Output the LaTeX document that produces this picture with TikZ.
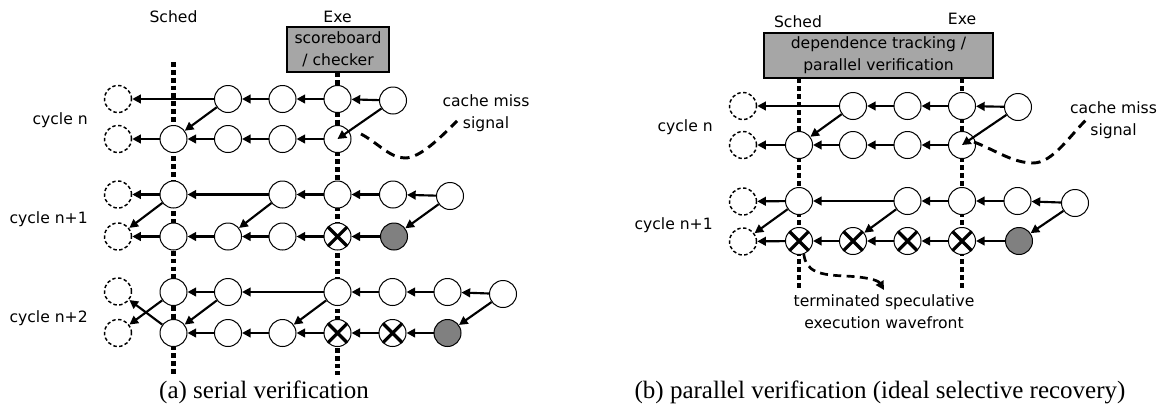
\documentclass[tikz,border=0pt]{standalone}
\usepackage{fontspec}
\newfontfamily\lblfont{DejaVu Sans}
\newfontfamily\capfont{Liberation Serif}
\usetikzlibrary{arrows.meta}
\begin{document}
\begin{tikzpicture}[x=0.75pt,y=-0.75pt,
  nd/.style={circle, draw, line width=0.75pt, fill=white, minimum size=20.25pt, inner sep=0pt},
  ghost/.style={nd, dash pattern=on 2.6pt off 1.8pt, line width=1.1pt},
  grn/.style={nd, fill=gray},
  xn/.style={nd, path picture={\draw[line width=2.4pt]
     (path picture bounding box.north west) -- (path picture bounding box.south east)
     (path picture bounding box.south west) -- (path picture bounding box.north east);}},
  arr/.style={line width=1.6pt, -{Triangle[length=6.5pt,width=6.5pt]}},
  lane/.style={line width=3.2pt, dash pattern=on 3.6pt off 2.3pt},
  lbl/.style={font=\lblfont\fontsize{11.7pt}{16.5pt}\selectfont, inner sep=0pt, align=center},
  box/.style={lbl, draw, fill=gray!70, line width=0.8pt, minimum height=33.75pt},
  captxt/.style={font=\capfont\fontsize{18.75pt}{22pt}\selectfont, inner sep=0pt},
  sig/.style={line width=2.2pt, dash pattern=on 7pt off 4.5pt},
  wave/.style={line width=2pt, dash pattern=on 6pt off 4pt, -{Triangle[length=6.5pt,width=6.5pt]}}
]
\useasboundingbox (0,0) rectangle (1162,404);

% ================= panel (a) =================
\node[lbl] (aSched) at (173.5,17) {Sched};
\node[lbl] (aExe) at (337.5,17) {Exe};
\node[box, minimum width=76.5pt] (aBox) at (338,49.5) {scoreboard\\/ checker};
\coordinate (aSt) at (173.5,62);
\coordinate (aSb) at (173.5,375);
\coordinate (aEb) at (337.5,375);
\draw[lane] (aSt) -- (aSb);
\draw[lane] (aBox.south -| aEb) -- (aEb);

\node[lbl, anchor=east] (acn) at (88,120) {cycle n};
\node[lbl, anchor=east] (acn1) at (88,219) {cycle n+1};
\node[lbl, anchor=east] (acn2) at (88,318) {cycle n+2};

% row 1
\node[ghost] (a10) at (118,99) {};
\node[nd] (a12) at (228,99) {};
\node[nd] (a13) at (282.5,99) {};
\node[nd] (a14) at (337.5,99) {};
\node[nd] (a15) at (393,100.5) {};
% row 2
\node[ghost] (a20) at (118,139) {};
\node[nd] (a21) at (173.5,139) {};
\node[nd] (a22) at (228,139) {};
\node[nd] (a23) at (282.5,139) {};
\node[nd] (a24) at (337.5,139) {};
% row 3
\node[ghost] (a30) at (118,194.5) {};
\node[nd] (a31) at (173.5,194.5) {};
\node[nd] (a33) at (282.5,194.5) {};
\node[nd] (a34) at (337.5,194.5) {};
\node[nd] (a35) at (393,194.5) {};
\node[nd] (a36) at (450,196) {};
% row 4
\node[ghost] (a40) at (118,236.5) {};
\node[nd] (a41) at (173.5,236.5) {};
\node[nd] (a42) at (228,236.5) {};
\node[nd] (a43) at (282.5,236.5) {};
\node[xn] (a44) at (337.5,236.5) {};
\node[grn] (a45) at (394,236.5) {};
% row 5
\node[ghost] (a50) at (118,291.5) {};
\node[nd] (a51) at (173.5,292) {};
\node[nd] (a52) at (228,292) {};
\node[nd] (a54) at (337.5,292) {};
\node[nd] (a55) at (392.5,292) {};
\node[nd] (a56) at (447.5,292) {};
\node[nd] (a57) at (503,294) {};
% row 6
\node[ghost] (a60) at (118,333) {};
\node[nd] (a61) at (173.5,333) {};
\node[nd] (a62) at (228,333) {};
\node[nd] (a63) at (282.5,333) {};
\node[xn] (a64) at (337.5,333) {};
\node[xn] (a65) at (392.5,333) {};
\node[grn] (a66) at (447.5,333) {};

\draw[arr] (a12) -- (a10);
\draw[arr] (a13) -- (a12);
\draw[arr] (a14) -- (a13);
\draw[arr] (a15) -- (a14);
\draw[arr] (a12) -- (a21);
\draw[arr] (a15) -- (a24.center);
\draw[arr] (a21) -- (a20);
\draw[arr] (a22) -- (a21);
\draw[arr] (a23) -- (a22);
\draw[arr] (a24) -- (a23);
\draw[arr] (a31) -- (a30);
\draw[arr] (a33) -- (a31);
\draw[arr] (a34) -- (a33);
\draw[arr] (a35) -- (a34);
\draw[arr] (a36) -- (a35);
\draw[arr] (a31) -- (a40);
\draw[arr] (a33) -- (a42);
\draw[arr] (a36) -- (a45);
\draw[arr] (a41) -- (a40);
\draw[arr] (a42) -- (a41);
\draw[arr] (a43) -- (a42);
\draw[arr] (a44) -- (a43);
\draw[arr] (a45) -- (a44);
\draw[arr] (a52) -- (a51);
\draw[arr] (a54) -- (a52);
\draw[arr] (a55) -- (a54);
\draw[arr] (a56) -- (a55);
\draw[arr] (a57) -- (a56);
\draw[arr] (a51) -- (a60);
\draw[arr] (a61) -- (a50);
\draw[arr] (a52) -- (a61);
\draw[arr] (a54) -- (a63);
\draw[arr] (a57) -- (a66);
\draw[arr] (a62) -- (a61);
\draw[arr] (a63) -- (a62);
\draw[arr] (a64) -- (a63);
\draw[arr] (a65) -- (a64);
\draw[arr] (a66) -- (a65);

\node[lbl] (acm) at (486,113) {cache miss\\signal};
\coordinate (asg0) at (361,134);
\coordinate (asg1) at (405,158);
\coordinate (asg2) at (457,121);
\draw[sig] (asg0) .. controls (378,143) and (390,158) .. (asg1)
                  .. controls (420,158) and (440,138) .. (asg2);

\node[captxt] (acap) at (264,392.5) {(a) serial verification};

% ================= panel (b) =================
\node[lbl] (bSched) at (798,21.5) {Sched};
\node[lbl] (bExe) at (962,19) {Exe};
\node[box, minimum width=171.75pt] (bBox) at (878.5,55.5) {dependence tracking /\\parallel verification};
\coordinate (bSb) at (799,289);
\coordinate (bEb) at (962,289);
\draw[lane] (bBox.south -| bSb) -- (bSb);
\draw[lane] (bBox.south -| bEb) -- (bEb);

\node[lbl, anchor=east] (bcn) at (713,127) {cycle n};
\node[lbl, anchor=east] (bcn1) at (713,225) {cycle n+1};

% row 1
\node[ghost] (b10) at (743,106) {};
\node[nd] (b12) at (853,106) {};
\node[nd] (b13) at (907.5,106) {};
\node[nd] (b14) at (962,106) {};
\node[nd] (b15) at (1018,107) {};
% row 2
\node[ghost] (b20) at (743,145) {};
\node[nd] (b21) at (799,145) {};
\node[nd] (b22) at (853,145) {};
\node[nd] (b23) at (907.5,145) {};
\node[nd] (b24) at (962,145) {};
% row 3
\node[ghost] (b30) at (743,201.5) {};
\node[nd] (b31) at (799,201) {};
\node[nd] (b33) at (907.5,201) {};
\node[nd] (b34) at (962,201) {};
\node[nd] (b35) at (1017.5,201) {};
\node[nd] (b36) at (1075,203) {};
% row 4
\node[ghost] (b40) at (743,241.5) {};
\node[xn] (b41) at (799,241) {};
\node[xn] (b42) at (853,241) {};
\node[xn] (b43) at (907.5,241) {};
\node[xn] (b44) at (962,241) {};
\node[grn] (b45) at (1019,241) {};

\draw[arr] (b12) -- (b10);
\draw[arr] (b13) -- (b12);
\draw[arr] (b14) -- (b13);
\draw[arr] (b15) -- (b14);
\draw[arr] (b12) -- (b21);
\draw[arr] (b15) -- (b24.center);
\draw[arr] (b21) -- (b20);
\draw[arr] (b22) -- (b21);
\draw[arr] (b23) -- (b22);
\draw[arr] (b24) -- (b23);
\draw[arr] (b31) -- (b30);
\draw[arr] (b33) -- (b31);
\draw[arr] (b34) -- (b33);
\draw[arr] (b35) -- (b34);
\draw[arr] (b36) -- (b35);
\draw[arr] (b31) -- (b40);
\draw[arr] (b33) -- (b42);
\draw[arr] (b36) -- (b45);
\draw[arr] (b41) -- (b40);
\draw[arr] (b42) -- (b41);
\draw[arr] (b43) -- (b42);
\draw[arr] (b44) -- (b43);
\draw[arr] (b45) -- (b44);

\node[lbl] (bcm) at (1113.5,120) {cache miss\\signal};
\coordinate (bsg0) at (974,142);
\coordinate (bsg1) at (1033,163);
\coordinate (bsg2) at (1088,118);
\draw[sig] (bsg0) .. controls (995,150) and (1013,163) .. (bsg1)
                  .. controls (1053,163) and (1070,135) .. (bsg2);

\node[lbl] (bterm) at (884,312) {terminated speculative\\execution wavefront};
\coordinate (bw1) at (884,290);
\draw[wave] (b41.-70) .. controls (806,272) and (820,275) .. (845,276)
            .. controls (866,277) and (878,280) .. (bw1);

\node[captxt] (bcap) at (880,392.5) {(b) parallel verification (ideal selective recovery)};
\end{tikzpicture}
\end{document}
